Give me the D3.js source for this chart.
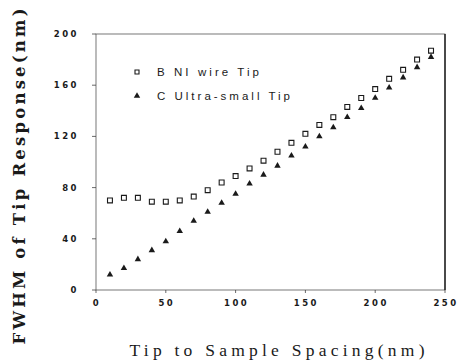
<!DOCTYPE html>
<html>
<head>
<meta charset="utf-8">
<script src="https://cdn.jsdelivr.net/npm/d3@7"></script>
<style>
  body { margin: 0; background: #fff; }
  svg { display: block; }
</style>
</head>
<body>
<div id="chart"></div>
<script>
// Tip to sample spacing (nm)
const spacing = [10, 20, 30, 40, 50, 60, 70, 80, 90, 100, 110, 120,
                 130, 140, 150, 160, 170, 180, 190, 200, 210, 220, 230, 240];
// B: Ni wire tip
const niWire = [70, 72, 72, 69, 69, 70, 73, 78, 84, 89, 95, 101,
                108, 115, 122, 129, 135, 143, 150, 157, 165, 172, 180, 187];
// C: ultra-small tip
const ultraSmall = [12, 17, 24, 31, 38, 46, 54, 61, 68, 75, 83, 90,
                    97, 105, 112, 120, 127, 135, 142, 150, 158, 166, 174, 182];
const xTicks = [0, 50, 100, 150, 200, 250];
const yTicks = [0, 40, 80, 120, 160, 200];
const legendLabels = ['B NI  wire  Tip', 'C Ultra-small   Tip'];

const width = 459, height = 364;
const margin = {left: 96, right: 14, top: 34, bottom: 74};

const svg = d3.select('#chart').append('svg')
    .attr('width', width)
    .attr('height', height);

const x = d3.scaleLinear().domain([0, 250]).range([margin.left, width - margin.right]);
const y = d3.scaleLinear().domain([0, 200]).range([height - margin.bottom, margin.top]);

const ink = '#1a1a1a';

// frame
svg.append('rect')
    .attr('x', x(0)).attr('y', y(200))
    .attr('width', x(250) - x(0)).attr('height', y(0) - y(200))
    .attr('fill', 'none').attr('stroke', '#555').attr('stroke-width', 0.8);
// right edge is heavier in the scan
svg.append('line')
    .attr('x1', x(250)).attr('x2', x(250))
    .attr('y1', y(200)).attr('y2', y(0))
    .attr('stroke', ink).attr('stroke-width', 1.4);

// y ticks + labels
svg.append('g').selectAll('line').data(yTicks).join('line')
    .attr('x1', x(0) - 4).attr('x2', x(0))
    .attr('y1', d => y(d)).attr('y2', d => y(d))
    .attr('stroke', '#444').attr('stroke-width', 0.8);
svg.append('g').selectAll('text').data(yTicks).join('text')
    .attr('x', 79).attr('y', d => y(d) + 3)
    .attr('text-anchor', 'end')
    .attr('font-family', 'DejaVu Sans, sans-serif')
    .attr('font-size', 8.5).attr('font-weight', 'bold')
    .attr('letter-spacing', 2.5)
    .attr('fill', ink)
    .text(d => d);

// x ticks + labels
svg.append('g').selectAll('line').data(xTicks).join('line')
    .attr('x1', d => x(d)).attr('x2', d => x(d))
    .attr('y1', y(0)).attr('y2', y(0) + 3)
    .attr('stroke', '#444').attr('stroke-width', 0.8);
svg.append('g').selectAll('text').data(xTicks).join('text')
    .attr('x', d => x(d) + 1).attr('y', y(0) + 16)
    .attr('text-anchor', 'middle')
    .attr('font-family', 'DejaVu Sans, sans-serif')
    .attr('font-size', 8.5).attr('font-weight', 'bold')
    .attr('letter-spacing', 2.5)
    .attr('fill', ink)
    .text(d => d);

// series
const square = d3.symbol().type(d3.symbolSquare).size(24);
const triangle = d3.symbol().type(d3.symbolTriangle).size(18);

svg.append('g').selectAll('path').data(spacing).join('path')
    .attr('transform', (d, i) => `translate(${x(d)},${y(niWire[i])})`)
    .attr('d', square)
    .attr('fill', '#fff').attr('stroke', ink).attr('stroke-width', 1.1);

svg.append('g').selectAll('path').data(spacing).join('path')
    .attr('transform', (d, i) => `translate(${x(d)},${y(ultraSmall[i])})`)
    .attr('d', triangle)
    .attr('fill', ink);

// legend
const legend = svg.append('g');
legend.append('path')
    .attr('transform', 'translate(137,72)')
    .attr('d', d3.symbol().type(d3.symbolSquare).size(16))
    .attr('fill', '#fff').attr('stroke', ink).attr('stroke-width', 1.1);
legend.append('path')
    .attr('transform', 'translate(137,96)')
    .attr('d', triangle)
    .attr('fill', ink);
legend.selectAll('text').data(legendLabels).join('text')
    .attr('x', 157).attr('y', (d, i) => 76 + i * 24)
    .attr('font-family', 'Liberation Sans, Arial, sans-serif')
    .attr('font-size', 11.5)
    .attr('textLength', (d, i) => i === 0 ? 102 : 133)
    .attr('lengthAdjust', 'spacing')
    .attr('fill', ink)
    .text(d => d);

// axis titles
svg.append('text')
    .attr('transform', `translate(25,${(8 + 345) / 2}) rotate(-90)`)
    .attr('text-anchor', 'middle')
    .attr('font-family', 'DejaVu Serif, serif')
    .attr('font-size', 16.5).attr('font-weight', 'bold')
    .attr('textLength', 336)
    .attr('lengthAdjust', 'spacing')
    .attr('fill', ink)
    .text('FWHM of Tip Response(nm)');

svg.append('text')
    .attr('x', 277).attr('y', 356)
    .attr('text-anchor', 'middle')
    .attr('font-family', 'Liberation Serif, serif')
    .attr('font-size', 17.5)
    .attr('textLength', 295)
    .attr('lengthAdjust', 'spacing')
    .attr('fill', ink)
    .text('Tip to Sample Spacing(nm)');
</script>
</body>
</html>
